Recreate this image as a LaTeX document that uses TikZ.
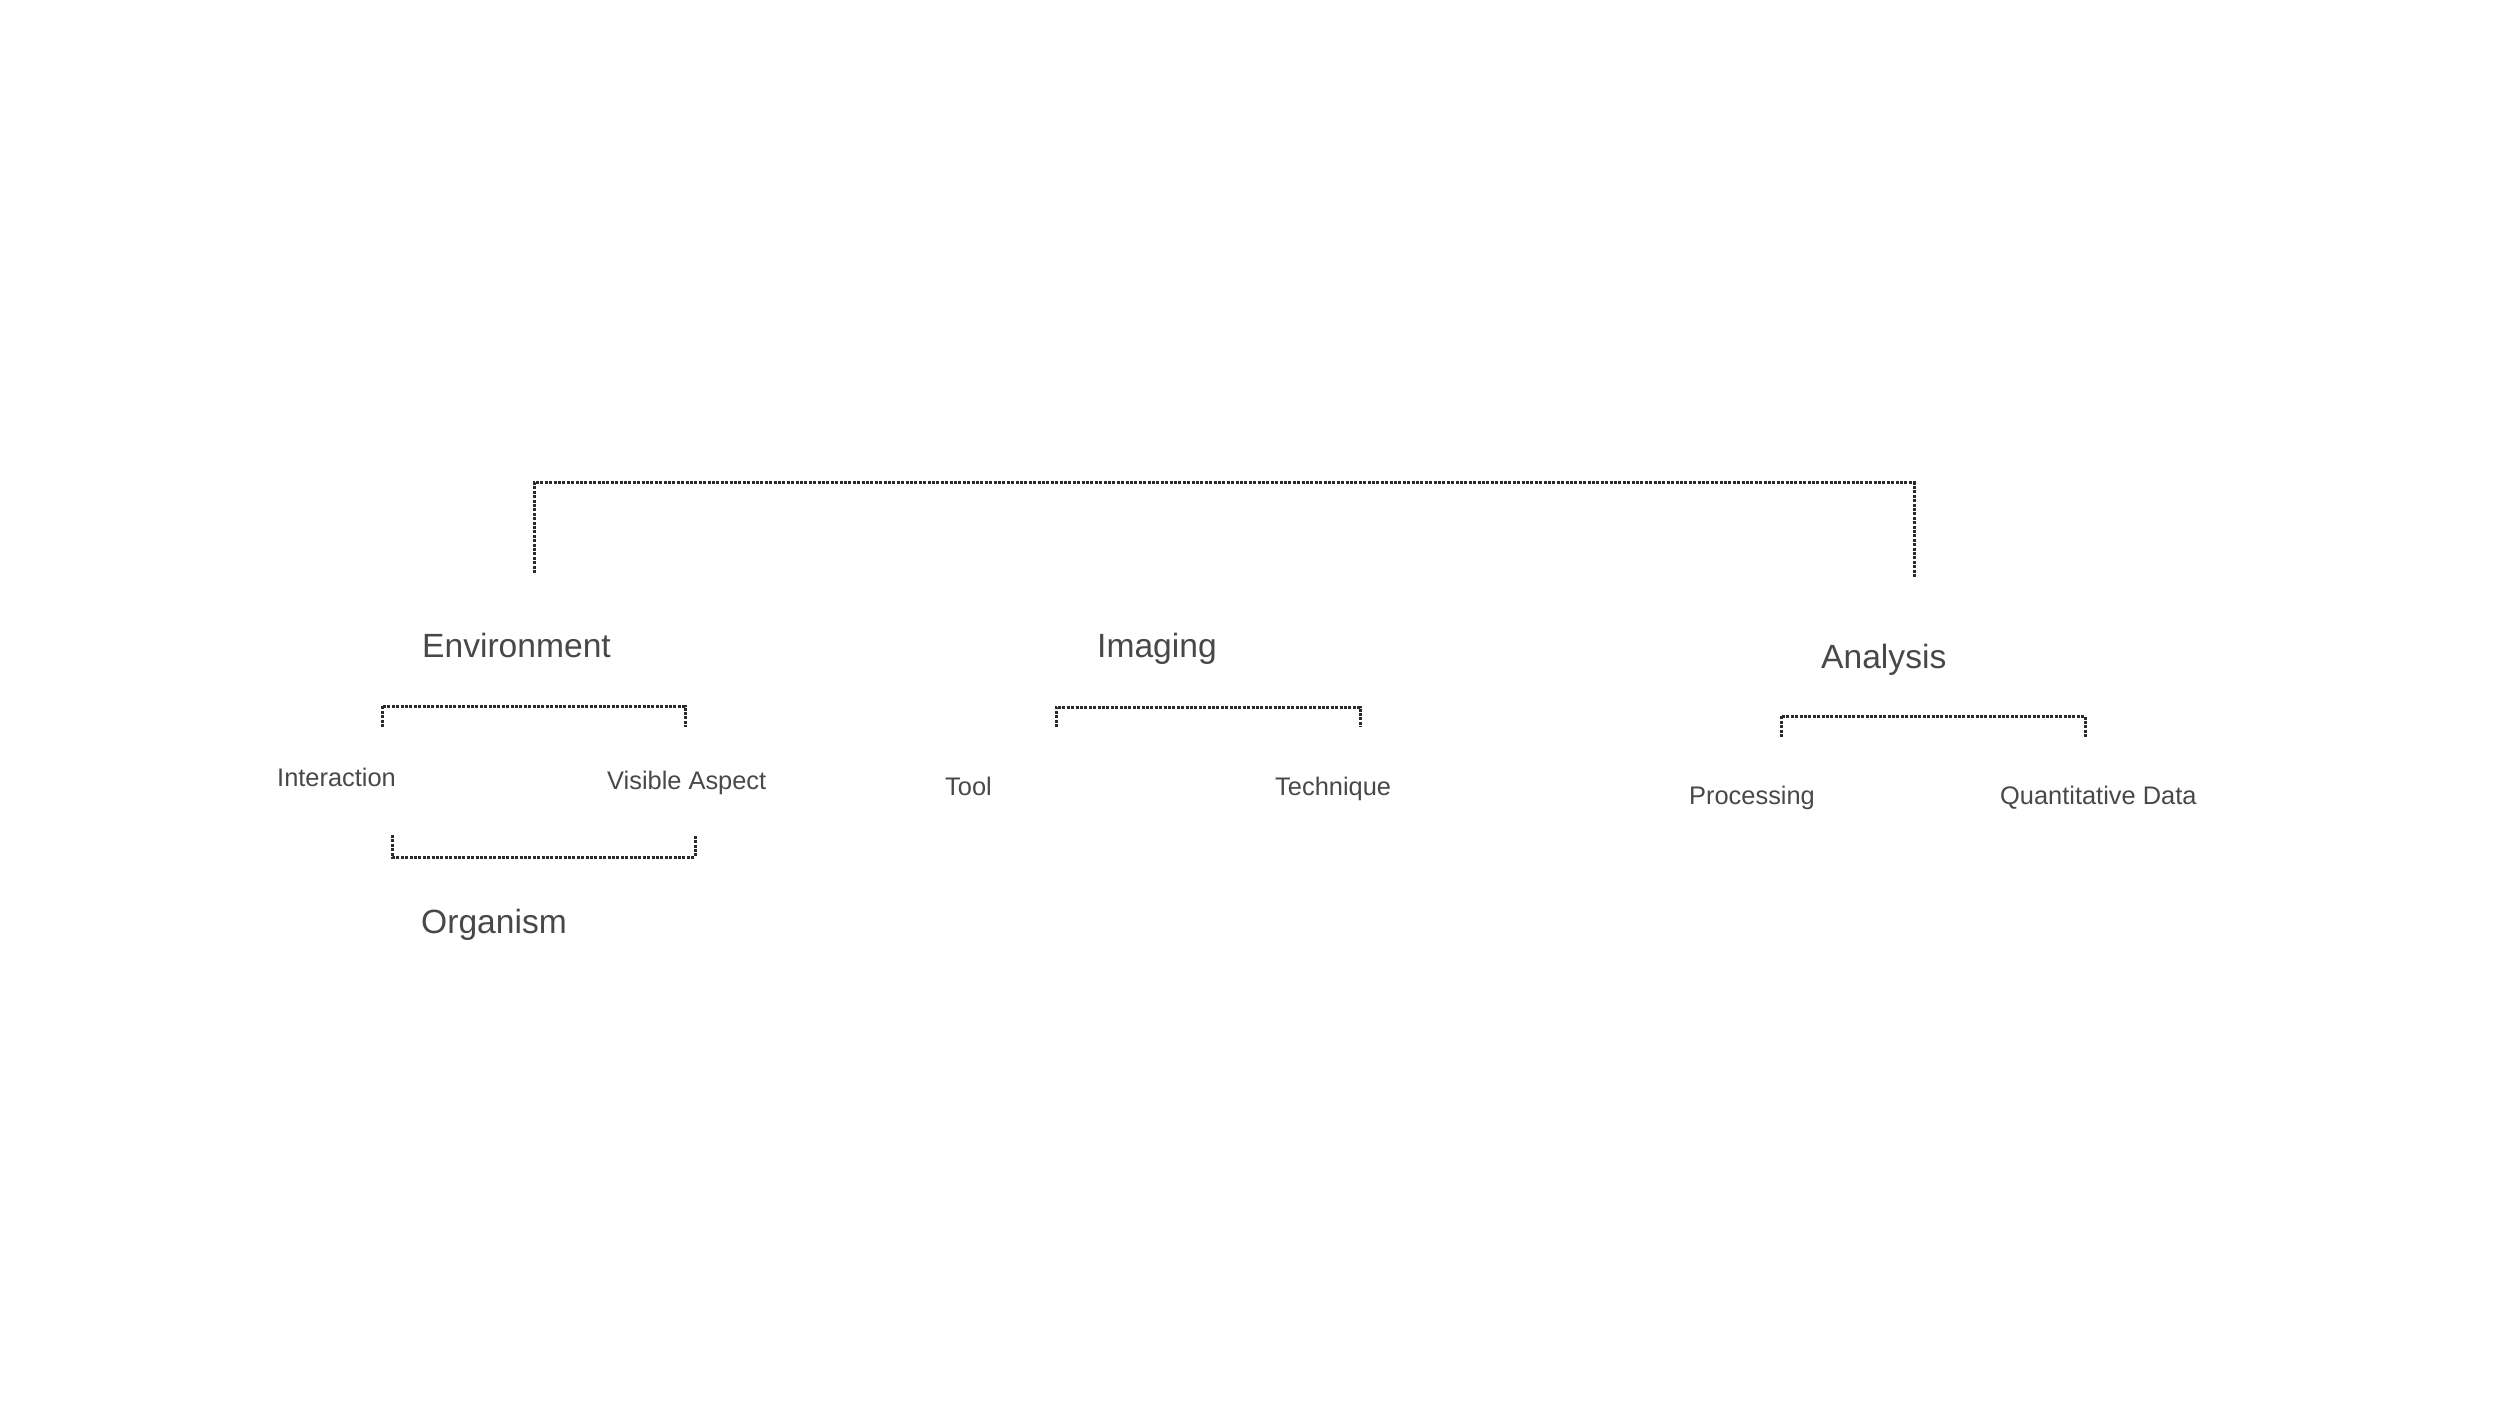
\documentclass[tikz,border=0pt]{standalone}
\usepackage{fontspec}
\setmainfont{Liberation Sans}
\definecolor{txt}{HTML}{484848}
\definecolor{ln}{HTML}{2A2A2A}
\begin{document}
\begin{tikzpicture}[x=1pt,y=-1pt,
  big/.style={anchor=base west, inner sep=0pt, text=txt, font=\fontsize{33.6}{40}\selectfont},
  small/.style={anchor=base west, inner sep=0pt, text=txt, font=\fontsize{25.4}{30}\selectfont},
  brk/.style={draw=ln, line width=3pt, dash pattern=on 3pt off 1.4pt}]
\useasboundingbox (0,0) rectangle (2500,1406);
% labels
\node[big] (env) at (422,657) {Environment};
\node[big] (img) at (1097,657) {Imaging};
\node[big] (ana) at (1821,668) {Analysis};
\node[small] (int) at (277,786) {Interaction};
\node[small] (vis) at (607,789) {Visible Aspect};
\node[small] (tool) at (945,795) {Tool};
\node[small] (tech) at (1275,795) {Technique};
\node[small] (proc) at (1689,804) {Processing};
\node[small] (quant) at (2000,804) {Quantitative Data};
\node[big] (org) at (421,933) {Organism};
% bracket end points
\coordinate (topLa) at (534,573); \coordinate (topLb) at (534,482.5);
\coordinate (topRb) at (1914,482.5); \coordinate (topRa) at (1914,577);
\coordinate (envLa) at (382,727); \coordinate (envLb) at (382,706);
\coordinate (envRb) at (685,706); \coordinate (envRa) at (685,727);
\coordinate (orgLa) at (392,835); \coordinate (orgLb) at (392,857);
\coordinate (orgRb) at (695,857); \coordinate (orgRa) at (695,835);
\coordinate (imgLa) at (1056,727); \coordinate (imgLb) at (1056,707);
\coordinate (imgRb) at (1360,707); \coordinate (imgRa) at (1360,727);
\coordinate (anaLa) at (1781,737); \coordinate (anaLb) at (1781,716);
\coordinate (anaRb) at (2085,716); \coordinate (anaRa) at (2085,737);
% brackets
\draw[brk] (topLa) -- (topLb) -- (topRb) -- (topRa);
\draw[brk] (envLa) -- (envLb) -- (envRb) -- (envRa);
\draw[brk] (orgLa) -- (orgLb) -- (orgRb) -- (orgRa);
\draw[brk] (imgLa) -- (imgLb) -- (imgRb) -- (imgRa);
\draw[brk] (anaLa) -- (anaLb) -- (anaRb) -- (anaRa);
\end{tikzpicture}
\end{document}
